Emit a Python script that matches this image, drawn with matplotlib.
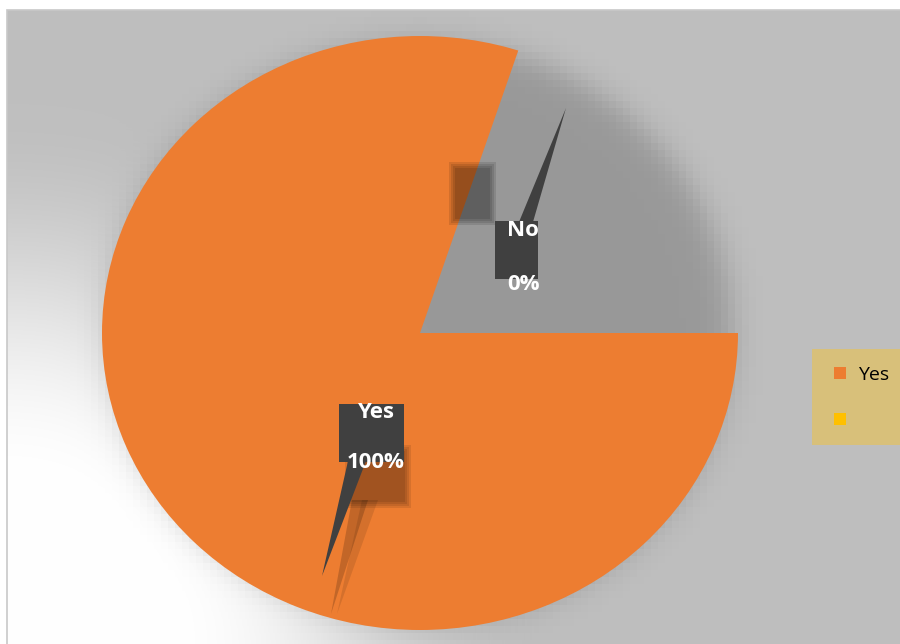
import numpy as np
import matplotlib.pyplot as plt
from matplotlib.patches import Rectangle, Polygon

plt.rcParams['font.family'] = ['Open Sans', 'DejaVu Sans']

# survey answers
categories = ['Yes', 'No']
shares = [100, 0]                      # percent
pie_colors = ['#ed7d31', '#a5a5a5']
legend_labels = ['Yes', '']
legend_colors = ['#ed7d31', '#ffc000']

W, H = 900, 644
cx, cy, rx, ry = 420, 333, 318, 297    # pie centre / radii in pixels
cut = 72                               # open sector, degrees


# pixel -> pie units (pie is the unit circle, axes aspect left free)
def ux(px):
    return (px - cx) / rx


def uy(py):
    return (cy - py) / ry


def pt(px, py):
    return ux(px), uy(py)


def rect(x, y, w, h, **kw):
    return Rectangle(pt(x, y + h), w / rx, h / ry, **kw)


def soft_rect(ax, x, y, w, h, alpha):
    # stacked translucent boxes give a blurred drop shadow
    for k in range(4):
        g = 3 - 2 * k
        ax.add_patch(rect(x - g, y - g, w + 2 * g, h + 2 * g, color='black',
                          alpha=alpha / 4, lw=0, zorder=3))


fig = plt.figure(figsize=(9, 6.44), dpi=100, facecolor='white')
ax = fig.add_axes([0, 0, 1, 1])

# ---- background: grey plot area, white glow bottom-left, blocky soft shadow
x0, x1, y0, y1 = 7, 900, 10, 644
xs = np.arange(x0, x1) + 0.5
ys = np.arange(y0, y1) + 0.5
X, Y = np.meshgrid(xs, ys)

d = np.hypot(X - x0, Y - y1)
t = np.clip((d - 160) / 380, 0, 1)
t = t * t * (3 - 2 * t)
base = 255 - 64 * t

blk = 7
Xq = (np.floor((X - x0) / blk) + 0.5) * blk + x0
Yq = (np.floor((Y - y0) / blk) + 0.5) * blk + y0
rho = np.hypot((Xq - cx) / rx, (Yq - cy) / ry)
edge = (rho - 1.0) * 307
shadow = 1 / (1 + np.exp((edge + 6) / 9))
grey = base * (1 - 0.2 * shadow) / 255
bg_img = np.dstack([grey, grey, grey])

# open sector of the pie, soft-edged mask in pixel space
a = np.deg2rad(cut)
d_low = cy - Y
nx, ny = ry * np.sin(a), rx * np.cos(a)
d_slant = ((X - cx) * nx + (Y - cy) * ny) / np.hypot(nx, ny)
rho_px = np.hypot((X - cx) / rx, (Y - cy) / ry)
inside = np.clip(np.minimum(d_low, d_slant) + 0.5, 0, 1)
inside[rho_px > 1.08] = 0
gap_img = np.dstack([grey, grey, grey, inside])

ext = (ux(x0), ux(x1), uy(y1), uy(y0))
ax.imshow(bg_img, extent=ext, origin='upper', interpolation='nearest',
          zorder=0)

# startangle 0 keeps the full slice a closed circle
wedges, _ = ax.pie(shares, colors=pie_colors, radius=1, center=(0, 0),
                   frame=True, wedgeprops=dict(linewidth=0))
for w in wedges:
    w.set_zorder(1)

ax.imshow(gap_img, extent=ext, origin='upper', interpolation='nearest',
          zorder=2)

ax.add_patch(rect(x0, y0, 905 - x0, 650 - y0, fill=False,
                  edgecolor='#c8c8c8', linewidth=1.2, zorder=6))

# ---- data labels (dark callouts) with their shadows
box = '#404040'
soft_rect(ax, 452, 165, 41, 57, 0.42)
soft_rect(ax, 348, 448, 60, 57, 0.36)
for k, (dx, al) in enumerate([(0, 0.18), (10, 0.1)]):
    ax.add_patch(Polygon([pt(352 + dx, 500), pt(368 + dx, 500),
                          pt(331 + dx * 0.6, 614)], closed=True,
                         color='black', alpha=al, lw=0, zorder=3))

ax.add_patch(Polygon([pt(519, 222), pt(533, 222), pt(566, 108)], closed=True,
                     color=box, lw=0, zorder=4))
ax.add_patch(rect(495, 221, 43, 58, color=box, lw=0, zorder=4))
ax.add_patch(Polygon([pt(348, 461), pt(366, 461), pt(322, 576)], closed=True,
                     color=box, lw=0, zorder=4))
ax.add_patch(rect(339, 404, 65, 58, color=box, lw=0, zorder=4))

label_pos = {'Yes': (376, 412, 463), 'No': (523, 231, 284)}
for cat, val in zip(categories, shares):
    lx, ly1, ly2 = label_pos[cat]
    ax.text(*pt(lx, ly1), cat, color='white', fontsize=16, fontweight='bold',
            ha='center', va='center', zorder=5)
    ax.text(*pt(lx, ly2), f'{val}%', color='white', fontsize=16,
            fontweight='bold', ha='center', va='center', zorder=5)

# ---- legend
ax.add_patch(rect(812, 349, 90, 96, color='#d8c07a', lw=0, zorder=4))
for i, (lab, col) in enumerate(zip(legend_labels, legend_colors)):
    yy = 373 + i * 46
    ax.add_patch(rect(834, yy - 6, 12, 12, color=col, lw=0, zorder=5))
    ax.text(*pt(858, yy + 2), lab, fontsize=14, color='black', va='center',
            ha='left', zorder=5)

ax.set_aspect('auto')
ax.set_xlim(ux(0), ux(W))
ax.set_ylim(uy(H), uy(0))
ax.axis('off')

fig.savefig('out.png', dpi=100, facecolor='white')
